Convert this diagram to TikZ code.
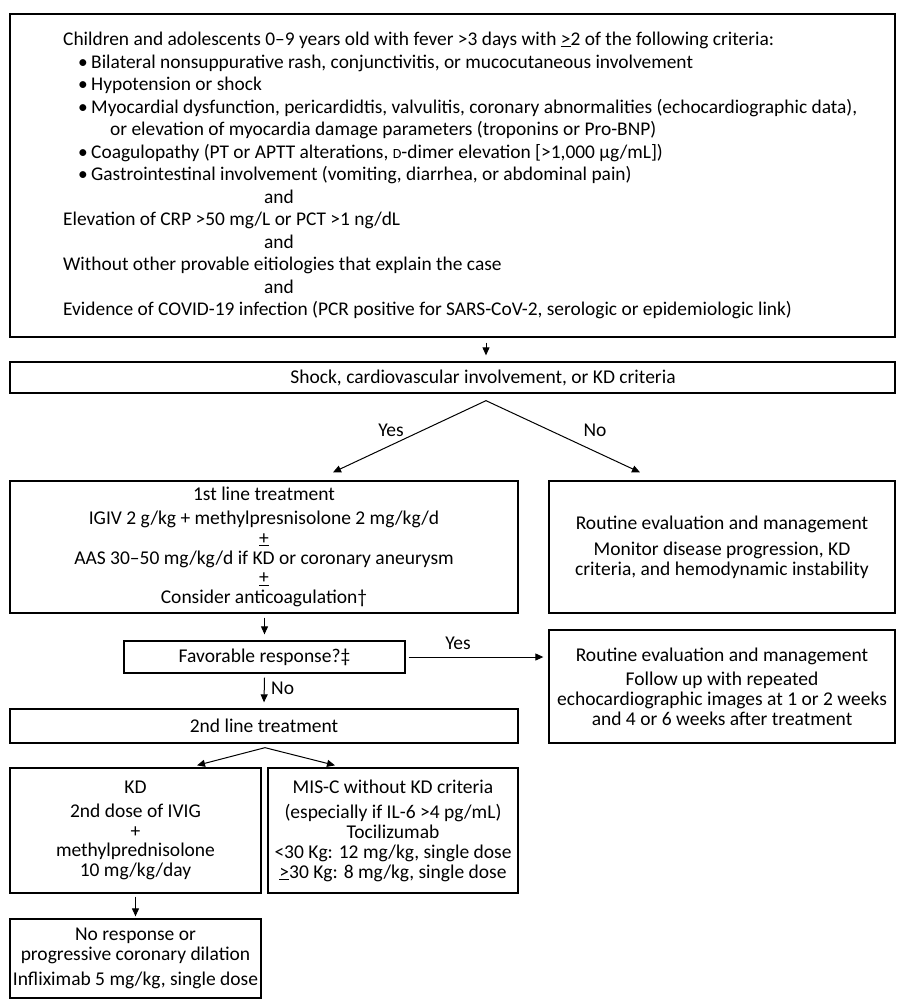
\documentclass[tikz,border=0pt]{standalone}
\usepackage{fontspec}
\setmainfont{Carlito}
\usetikzlibrary{arrows.meta}
\newcommand\fsz{\fontsize{19.5}{19.8}\selectfont}
\newsavebox{\ulsbox}
\newcommand\ulsym[1]{\sbox{\ulsbox}{#1}\rlap{\rule[-1.6pt]{\wd\ulsbox}{0.9pt}}\usebox{\ulsbox}}
\newcommand\smD{{\fontsize{14}{14}\selectfont D}}
\begin{document}
\begin{tikzpicture}[x=1pt,y=-1pt,
  box/.style={draw=black, line width=1.3pt, inner sep=0pt, align=center, font=\fsz},
  arr/.style={-{Triangle[length=8pt,width=7pt]}, line width=1pt},
  lbl/.style={inner sep=0pt, font=\fsz}]
\useasboundingbox (0,0) rectangle (900,1007);
\fill[white] (0,0) rectangle (900,1007);

% boxes
\node[box, minimum width=885pt, minimum height=323pt] (top) at (452.5,175.5) {};
\node[anchor=north west, inner sep=0pt, align=left, font=\fontsize{19.4}{22.5}\selectfont] (crit) at (63,32)
{Children and adolescents 0–9 years old with fever >3 days with \ulsym{>}2 of the following criteria:\\
\hspace*{15pt}\makebox[13pt][l]{•}Bilateral nonsuppurative rash, conjunctivitis, or mucocutaneous involvement\\
\hspace*{15pt}\makebox[13pt][l]{•}Hypotension or shock\\
\hspace*{15pt}\makebox[13pt][l]{•}Myocardial dysfunction, pericardidtis, valvulitis, coronary abnormalities (echocardiographic data),\\
\hspace*{47pt}or elevation of myocardia damage parameters (troponins or Pro-BNP)\\
\hspace*{15pt}\makebox[13pt][l]{•}Coagulopathy (PT or APTT alterations, \smD-dimer elevation [>1,000 µg/mL])\\
\hspace*{15pt}\makebox[13pt][l]{•}Gastrointestinal involvement (vomiting, diarrhea, or abdominal pain)\\
\hspace*{201pt}and\\
Elevation of CRP >50 mg/L or PCT >1 ng/dL\\
\hspace*{201pt}and\\
Without other provable eitiologies that explain the case\\
\hspace*{201pt}and\\
Evidence of COVID-19 infection (PCR positive for SARS-CoV-2, serologic or epidemiologic link)};

\node[box, minimum width=885pt, minimum height=31pt] (shock) at (452.5,377.5)
  {\hspace*{61pt}Shock, cardiovascular involvement, or KD criteria};

\node[box, minimum width=508pt, minimum height=132pt] (first) at (264,547)
  {1st line treatment\\[4pt]
   IGIV 2 g/kg + methylpresnisolone 2 mg/kg/d\\
   \ulsym{+}\\
   AAS 30–50 mg/kg/d if KD or coronary aneurysm\\
   \ulsym{+}\\
   Consider anticoagulation†};

\node[box, minimum width=346pt, minimum height=132pt] (routine1) at (722,547)
  {Routine evaluation and management\\[6pt]
   Monitor disease progression, KD\\
   criteria, and hemodynamic instability};

\node[box, minimum width=281pt, minimum height=32pt] (fav) at (264.5,657)
  {Favorable response?‡};

\node[box, minimum width=346pt, minimum height=113pt] (routine2) at (722,686.5)
  {Routine evaluation and management\\[5pt]
   Follow up with repeated\\
   echocardiographic images at 1 or 2 weeks\\
   and 4 or 6 weeks after treatment};

\node[box, minimum width=508pt, minimum height=34pt] (second) at (264,726)
  {2nd line treatment};

\node[box, minimum width=251pt, minimum height=125pt] (kd) at (135.5,830.5)
  {KD\\[4pt]
   2nd dose of IVIG\\
   +\\
   methylprednisolone\\
   10 mg/kg/day};

\node[box, minimum width=250pt, minimum height=125pt] (misc) at (393,830.5)
  {MIS-C without KD criteria\\[6pt]
   (especially if IL-6 >4 pg/mL)\\
   Tocilizumab\\
   <30 Kg: 12 mg/kg, single dose\\
   \ulsym{>}30 Kg: 8 mg/kg, single dose};

\node[box, minimum width=251pt, minimum height=79pt] (last) at (135.5,958.5)
  {No response or\\
   progressive coronary dilation\\[6pt]
   Infliximab 5 mg/kg, single dose};

% connectors
\draw[arr] ([xshift=33.5pt,yshift=-5pt]top.south) -- ([xshift=33.5pt,yshift=6pt]shock.north);

\coordinate (split1) at ([xshift=33.5pt,yshift=-7pt]shock.south);
\draw[arr] (split1) -- ([xshift=69pt,yshift=8pt]first.north);
\draw[arr] (split1) -- ([xshift=-82pt,yshift=8pt]routine1.north);
\node[lbl] (yes1) at (391,430) {Yes};
\node[lbl] (no1) at (595,430) {No};

\draw[arr] ([yshift=-4pt]first.south -| fav.north) -- ([yshift=6pt]fav.north);

\draw[arr] ([xshift=3pt]fav.east) -- ([xshift=-5pt]fav.east -| routine2.west);
\node[lbl] (yes2) at (458,643) {Yes};

\draw[arr] ([yshift=-4pt]fav.south) -- ([yshift=6pt]second.north);
\node[lbl, anchor=west] (no2) at (271,688) {No};

\coordinate (split2) at ([xshift=1pt,yshift=-4pt]second.south);
\draw[arr] (split2) -- ([xshift=61.5pt,yshift=2pt]kd.north);
\draw[arr] (split2) -- ([xshift=-58pt,yshift=2pt]misc.north);

\draw[arr] ([yshift=-3pt]kd.south) -- ([yshift=2pt]last.north);
\end{tikzpicture}
\end{document}
